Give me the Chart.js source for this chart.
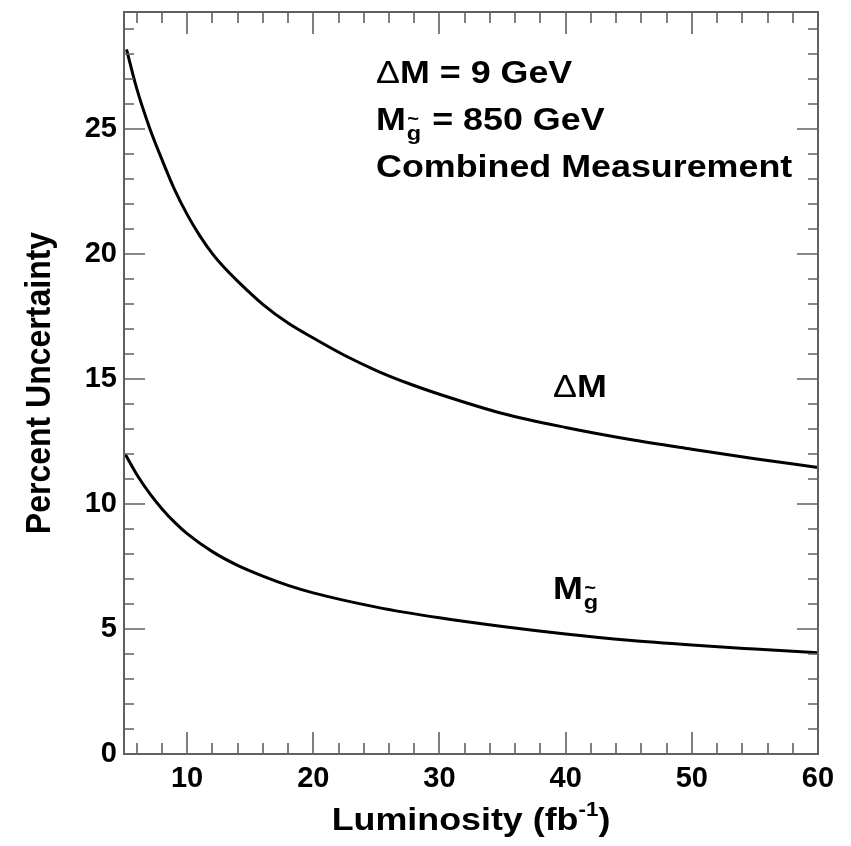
<!DOCTYPE html>
<html>
<head>
<meta charset="utf-8">
<script src="https://cdn.jsdelivr.net/npm/chart.js@4/dist/chart.umd.min.js"></script>
<style>
  body { margin: 0; background: #fff; }
  #wrap { width: 851px; height: 846px; position: relative; }
</style>
</head>
<body>
<div id="wrap"><canvas id="chart"></canvas></div>
<script>
// Data
const dmLumi = [5.2, 6, 7, 8, 9, 10, 11, 12, 13, 14, 16, 18, 20, 22.5, 25, 27.5, 30, 35, 40, 45, 50, 55, 60];
const dmUnc  = [28.2, 26.65, 25.1, 23.8, 22.6, 21.6, 20.75, 20.03, 19.44, 18.93, 18.0, 17.25, 16.65, 15.95, 15.35, 14.84, 14.4, 13.63, 13.07, 12.6, 12.2, 11.82, 11.47];
const mgLumi = [5.1, 6, 7, 8, 9, 10, 12, 14, 16, 18, 20, 25, 30, 35, 40, 45, 50, 55, 60];
const mgUnc  = [12.0, 11.2, 10.45, 9.82, 9.28, 8.82, 8.1, 7.55, 7.12, 6.75, 6.45, 5.88, 5.45, 5.1, 4.8, 4.55, 4.36, 4.2, 4.05];

const xTickLabels = [10, 20, 30, 40, 50, 60];
const yTickLabels = [0, 5, 10, 15, 20, 25];
const xMinorStep = 2;
const yMinorStep = 1;

const FONT = "'Liberation Sans', Arial, Helvetica, sans-serif";
const SX = 1.12; // text in the picture is a bit wide

const toPoints = (xs, ys) => xs.map((x, i) => ({ x: x, y: ys[i] }));

// Frame + inward ticks on all four sides
const framePlugin = {
    id: 'frame',
    afterDatasetsDraw(chart) {
        const { ctx, chartArea: a, scales: { x, y } } = chart;
        ctx.save();
        ctx.strokeStyle = '#606060';
        ctx.lineWidth = 2;
        ctx.strokeRect(a.left, a.top, a.right - a.left, a.bottom - a.top);

        ctx.lineWidth = 1.6;
        ctx.beginPath();
        for (let v = 6; v <= x.max + 0.001; v += xMinorStep) {
            const px = Math.round(x.getPixelForValue(v));
            const len = xTickLabels.includes(v) ? 22 : 11;
            ctx.moveTo(px, a.bottom); ctx.lineTo(px, a.bottom - len);
            ctx.moveTo(px, a.top); ctx.lineTo(px, a.top + len);
        }
        for (let v = 1; v <= y.max; v += yMinorStep) {
            const py = Math.round(y.getPixelForValue(v));
            const len = v % 5 === 0 ? 21 : 10;
            ctx.moveTo(a.left, py); ctx.lineTo(a.left + len, py);
            ctx.moveTo(a.right, py); ctx.lineTo(a.right - len, py);
        }
        ctx.stroke();
        ctx.restore();
    }
};

function wideText(ctx, text, x, y, font) {
    ctx.save();
    ctx.font = font;
    ctx.translate(x, y);
    ctx.scale(SX, 1);
    ctx.fillText(text, 0, 0);
    const w = ctx.measureText(text).width * SX;
    ctx.restore();
    return w;
}

// M with gluino subscript (g + tilde), returns width drawn
function mGluino(ctx, x, y) {
    let w = wideText(ctx, 'M', x, y, `bold 32px ${FONT}`);
    const gx = x + w + 1;
    const gw = wideText(ctx, 'g', gx, y + 10, `bold 21px ${FONT}`);
    wideText(ctx, '~', gx + 0.5, y - 5, `bold 18px ${FONT}`);
    return w + gw + 2;
}

const labelPlugin = {
    id: 'labels',
    afterDraw(chart) {
        const { ctx, chartArea: a } = chart;
        ctx.save();
        ctx.fillStyle = '#000';
        ctx.textBaseline = 'alphabetic';
        ctx.textAlign = 'left';

        // Info box
        let w = wideText(ctx, 'Δ', 376, 83, `32px ${FONT}`);
        wideText(ctx, 'M = 9 GeV', 376 + w, 83, `bold 32px ${FONT}`);
        w = mGluino(ctx, 376, 130);
        wideText(ctx, ' = 850 GeV', 376 + w, 130, `bold 32px ${FONT}`);
        wideText(ctx, 'Combined Measurement', 376, 177, `bold 32px ${FONT}`);

        // Curve labels
        w = wideText(ctx, 'Δ', 553, 397, `32px ${FONT}`);
        wideText(ctx, 'M', 553 + w, 397, `bold 32px ${FONT}`);
        mGluino(ctx, 553, 599);

        // X title with superscript
        const cx = (a.left + a.right) / 2;
        ctx.font = `bold 32px ${FONT}`;
        const t1 = 'Luminosity (fb';
        const w1 = ctx.measureText(t1).width * SX;
        ctx.font = `bold 20px ${FONT}`;
        const w2 = ctx.measureText('-1').width * SX;
        ctx.font = `bold 32px ${FONT}`;
        const w3 = ctx.measureText(')').width * SX;
        const x0 = cx - (w1 + w2 + w3) / 2;
        wideText(ctx, t1, x0, 830, `bold 32px ${FONT}`);
        wideText(ctx, '-1', x0 + w1, 816, `bold 20px ${FONT}`);
        wideText(ctx, ')', x0 + w1 + w2, 830, `bold 32px ${FONT}`);

        // Y title
        ctx.save();
        ctx.translate(50, (a.top + a.bottom) / 2);
        ctx.rotate(-Math.PI / 2);
        ctx.scale(1, SX);
        ctx.font = `bold 32px ${FONT}`;
        ctx.textAlign = 'center';
        ctx.fillText('Percent Uncertainty', 0, 0);
        ctx.restore();

        ctx.restore();
    }
};

const lineStyle = {
    borderColor: '#000',
    borderWidth: 3,
    pointRadius: 0,
    fill: false,
    cubicInterpolationMode: 'monotone'
};

new Chart(document.getElementById('chart'), {
    type: 'line',
    data: {
        datasets: [
            { label: 'ΔM', data: toPoints(dmLumi, dmUnc), ...lineStyle },
            { label: 'Mg', data: toPoints(mgLumi, mgUnc), ...lineStyle }
        ]
    },
    options: {
        responsive: true,
        maintainAspectRatio: false,
        animation: false,
        layout: { padding: { top: 12, right: 33, left: 0, bottom: 0 } },
        plugins: { legend: { display: false }, tooltip: { enabled: false } },
        scales: {
            x: {
                type: 'linear',
                min: 5,
                max: 60,
                grid: { display: false, drawTicks: false },
                border: { display: false },
                afterBuildTicks: (s) => { s.ticks = xTickLabels.map(v => ({ value: v })); },
                afterFit: (s) => { s.height = 92; s.paddingLeft = 0; s.paddingRight = 0; },
                ticks: {
                    color: '#000',
                    padding: 8,
                    maxRotation: 0,
                    font: { family: FONT, size: 29, weight: 'bold' }
                }
            },
            y: {
                type: 'linear',
                min: 0,
                max: 29.7,
                grid: { display: false, drawTicks: false },
                border: { display: false },
                afterBuildTicks: (s) => { s.ticks = yTickLabels.map(v => ({ value: v })); },
                afterFit: (s) => { s.width = 124; s.paddingTop = 0; s.paddingBottom = 0; },
                ticks: {
                    color: '#000',
                    padding: 7,
                    font: { family: FONT, size: 29, weight: 'bold' }
                }
            }
        }
    },
    plugins: [framePlugin, labelPlugin]
});
</script>
</body>
</html>
